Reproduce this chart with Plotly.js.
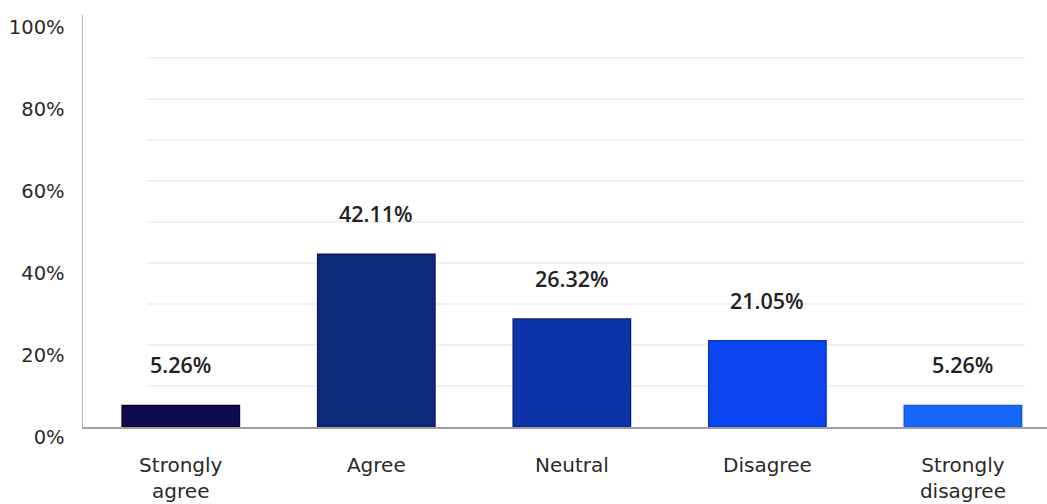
<!DOCTYPE html>
<html>
<head>
<meta charset="utf-8">
<script src="https://cdn.plot.ly/plotly-3.0.1.min.js"></script>
<style>html,body{margin:0;padding:0;background:#fff;}#chart{width:1047px;height:504px;}</style>
</head>
<body>
<div id="chart"></div>
<script>
const categories = ["Strongly<br>agree", "Agree", "Neutral", "Disagree", "Strongly<br>disagree"];
const values = [5.26, 42.11, 26.32, 21.05, 5.26];
const valueLabels = ["5.26%", "42.11%", "26.32%", "21.05%", "5.26%"];
const barColors = ["#0e0c4f", "#0c2a7c", "#0c34a8", "#0c46f2", "#1868fb"];
const barEdges = ["#07052c", "#081b58", "#082586", "#0836c8", "#1155e0"];
const tickVals = [0, 20, 40, 60, 80, 100];
const tickText = ["0%", "20%", "40%", "60%", "80%", "100%"];
const gridVals = [10, 20, 30, 40, 50, 60, 70, 80, 90];

const trace = {
  type: "bar",
  x: categories,
  y: values,
  width: 0.6,
  marker: {color: barColors, line: {color: barEdges, width: 1.5}},
  hoverinfo: "skip"
};

const annotations = categories.map((c, i) => ({
  x: c, y: values[i], xref: "x", yref: "y",
  text: valueLabels[i], showarrow: false,
  yanchor: "bottom", yshift: 24,
  font: {family: "Open Sans, sans-serif", size: 21.5, color: "#222", weight: 600}
}));

const shapes = gridVals.map(v => ({
  type: "line", xref: "paper", yref: "y",
  x0: 0.066, x1: 0.977, y0: v, y1: v,
  line: {color: "#ebebeb", width: 1.5}, layer: "below"
}));

const layout = {
  width: 1047, height: 504,
  margin: {l: 83, r: 0, t: 15, b: 77},
  paper_bgcolor: "#fff", plot_bgcolor: "#fff",
  showlegend: false,
  bargap: 0.4,
  xaxis: {
    type: "category",
    range: [-0.5, 4.43],
    showgrid: false, zeroline: false,
    showline: true, linecolor: "#a0a0a0", linewidth: 1.5,
    ticks: "", ticklabelstandoff: 19,
    tickfont: {family: "DejaVu Sans, sans-serif", size: 20, color: "#2a2a2a"}
  },
  yaxis: {
    range: [0, 100.5],
    tickvals: tickVals, ticktext: tickText,
    showgrid: false, zeroline: false,
    showline: true, linecolor: "#b5b5b5", linewidth: 1.5,
    ticks: "", ticklabelstandoff: 13, ticklabelshift: 10,
    tickfont: {family: "DejaVu Sans, sans-serif", size: 19.5, color: "#2a2a2a"}
  },
  annotations: annotations,
  shapes: shapes
};

Plotly.newPlot("chart", [trace], layout, {staticPlot: true, displayModeBar: false});
</script>
</body>
</html>
